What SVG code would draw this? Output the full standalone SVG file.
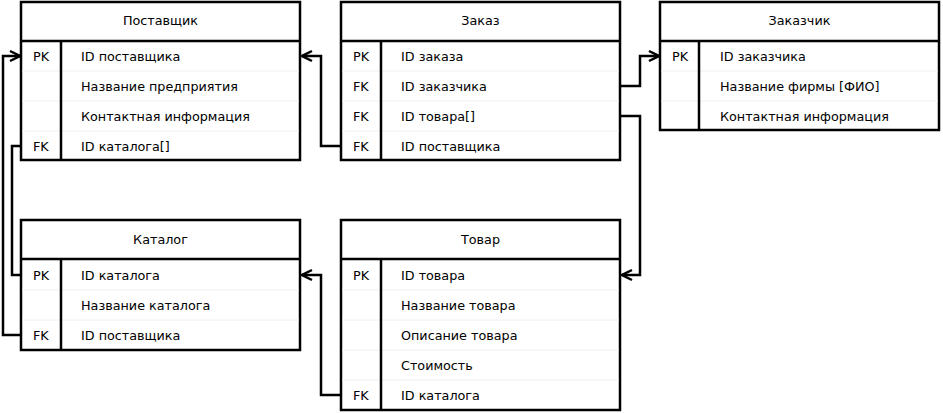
<svg xmlns="http://www.w3.org/2000/svg" width="943" height="413" viewBox="0 0 943 413">
<style>
.box{fill:#fff;stroke:#000;stroke-width:2.5}
.ln{stroke:#000;stroke-width:2.5;fill:none}
.sep{stroke:#f0f0f0;stroke-width:1}
text{font-family:"DejaVu Sans",sans-serif;font-size:12.75px;fill:#000}
.h{text-anchor:middle}
.c{fill:none;stroke:#000;stroke-width:2.5}
</style>
<defs>
<marker id="arr" markerUnits="userSpaceOnUse" markerWidth="14" markerHeight="14" viewBox="-2 -2 14 14" refX="10" refY="5" orient="auto">
<path d="M0,0 L10,5 L0,10" fill="none" stroke="#000" stroke-width="2.5"/>
</marker>
</defs>
<g id="postavshik">
<rect class="box" x="21" y="2" width="279" height="158"/>
<line class="ln" x1="21" y1="41" x2="300" y2="41"/>
<line class="sep" x1="22" y1="71" x2="299" y2="71"/>
<line class="sep" x1="22" y1="101" x2="299" y2="101"/>
<line class="sep" x1="22" y1="131" x2="299" y2="131"/>
<line class="ln" x1="61" y1="41" x2="61" y2="160"/>
<text class="h" x="160.5" y="25">Поставщик</text>
<text x="33" y="61">PK</text><text x="81" y="61">ID поставщика</text>
<text x="81" y="91">Название предприятия</text>
<text x="81" y="121">Контактная информация</text>
<text x="33" y="151">FK</text><text x="81" y="151">ID каталога[]</text>
</g>
<g id="zakaz">
<rect class="box" x="341" y="2" width="279" height="158"/>
<line class="ln" x1="341" y1="41" x2="620" y2="41"/>
<line class="sep" x1="342" y1="71" x2="619" y2="71"/>
<line class="sep" x1="342" y1="101" x2="619" y2="101"/>
<line class="sep" x1="342" y1="131" x2="619" y2="131"/>
<line class="ln" x1="381" y1="41" x2="381" y2="160"/>
<text class="h" x="480.5" y="25">Заказ</text>
<text x="353" y="61">PK</text><text x="401" y="61">ID заказа</text>
<text x="353" y="91">FK</text><text x="401" y="91">ID заказчика</text>
<text x="353" y="121">FK</text><text x="401" y="121">ID товара[]</text>
<text x="353" y="151">FK</text><text x="401" y="151">ID поставщика</text>
</g>
<g id="zakazchik">
<rect class="box" x="660" y="2" width="279" height="128"/>
<line class="ln" x1="660" y1="41" x2="939" y2="41"/>
<line class="sep" x1="661" y1="71" x2="938" y2="71"/>
<line class="sep" x1="661" y1="101" x2="938" y2="101"/>
<line class="ln" x1="699" y1="41" x2="699" y2="130"/>
<text class="h" x="799.5" y="25">Заказчик</text>
<text x="672" y="61">PK</text><text x="720" y="61">ID заказчика</text>
<text x="720" y="91">Название фирмы [ФИО]</text>
<text x="720" y="121">Контактная информация</text>
</g>
<g id="katalog">
<rect class="box" x="21" y="220" width="279" height="130"/>
<line class="ln" x1="21" y1="259" x2="300" y2="259"/>
<line class="sep" x1="22" y1="290" x2="299" y2="290"/>
<line class="sep" x1="22" y1="320" x2="299" y2="320"/>
<line class="ln" x1="61" y1="259" x2="61" y2="350"/>
<text class="h" x="160.5" y="244">Каталог</text>
<text x="33" y="280">PK</text><text x="81" y="280">ID каталога</text>
<text x="81" y="310">Название каталога</text>
<text x="33" y="340">FK</text><text x="81" y="340">ID поставщика</text>
</g>
<g id="tovar">
<rect class="box" x="341" y="220" width="279" height="190"/>
<line class="ln" x1="341" y1="259" x2="620" y2="259"/>
<line class="sep" x1="342" y1="290" x2="619" y2="290"/>
<line class="sep" x1="342" y1="320" x2="619" y2="320"/>
<line class="sep" x1="342" y1="350" x2="619" y2="350"/>
<line class="sep" x1="342" y1="380" x2="619" y2="380"/>
<line class="ln" x1="381" y1="259" x2="381" y2="410"/>
<text class="h" x="480.5" y="244">Товар</text>
<text x="353" y="280">PK</text><text x="401" y="280">ID товара</text>
<text x="401" y="310">Название товара</text>
<text x="401" y="340">Описание товара</text>
<text x="401" y="370">Стоимость</text>
<text x="353" y="400">FK</text><text x="401" y="400">ID каталога</text>
</g>
<g id="connectors">
<path class="c" d="M21,146 H12 V275 H21"/>
<path class="c" d="M21,335 H3 V56 H20" marker-end="url(#arr)"/>
<path class="c" d="M341,146 H321 V56 H302" marker-end="url(#arr)"/>
<path class="c" d="M620,86 H640 V56 H659" marker-end="url(#arr)"/>
<path class="c" d="M620,116 H640 V275 H622" marker-end="url(#arr)"/>
<path class="c" d="M341,395 H321 V275 H302" marker-end="url(#arr)"/>
</g>
</svg>
